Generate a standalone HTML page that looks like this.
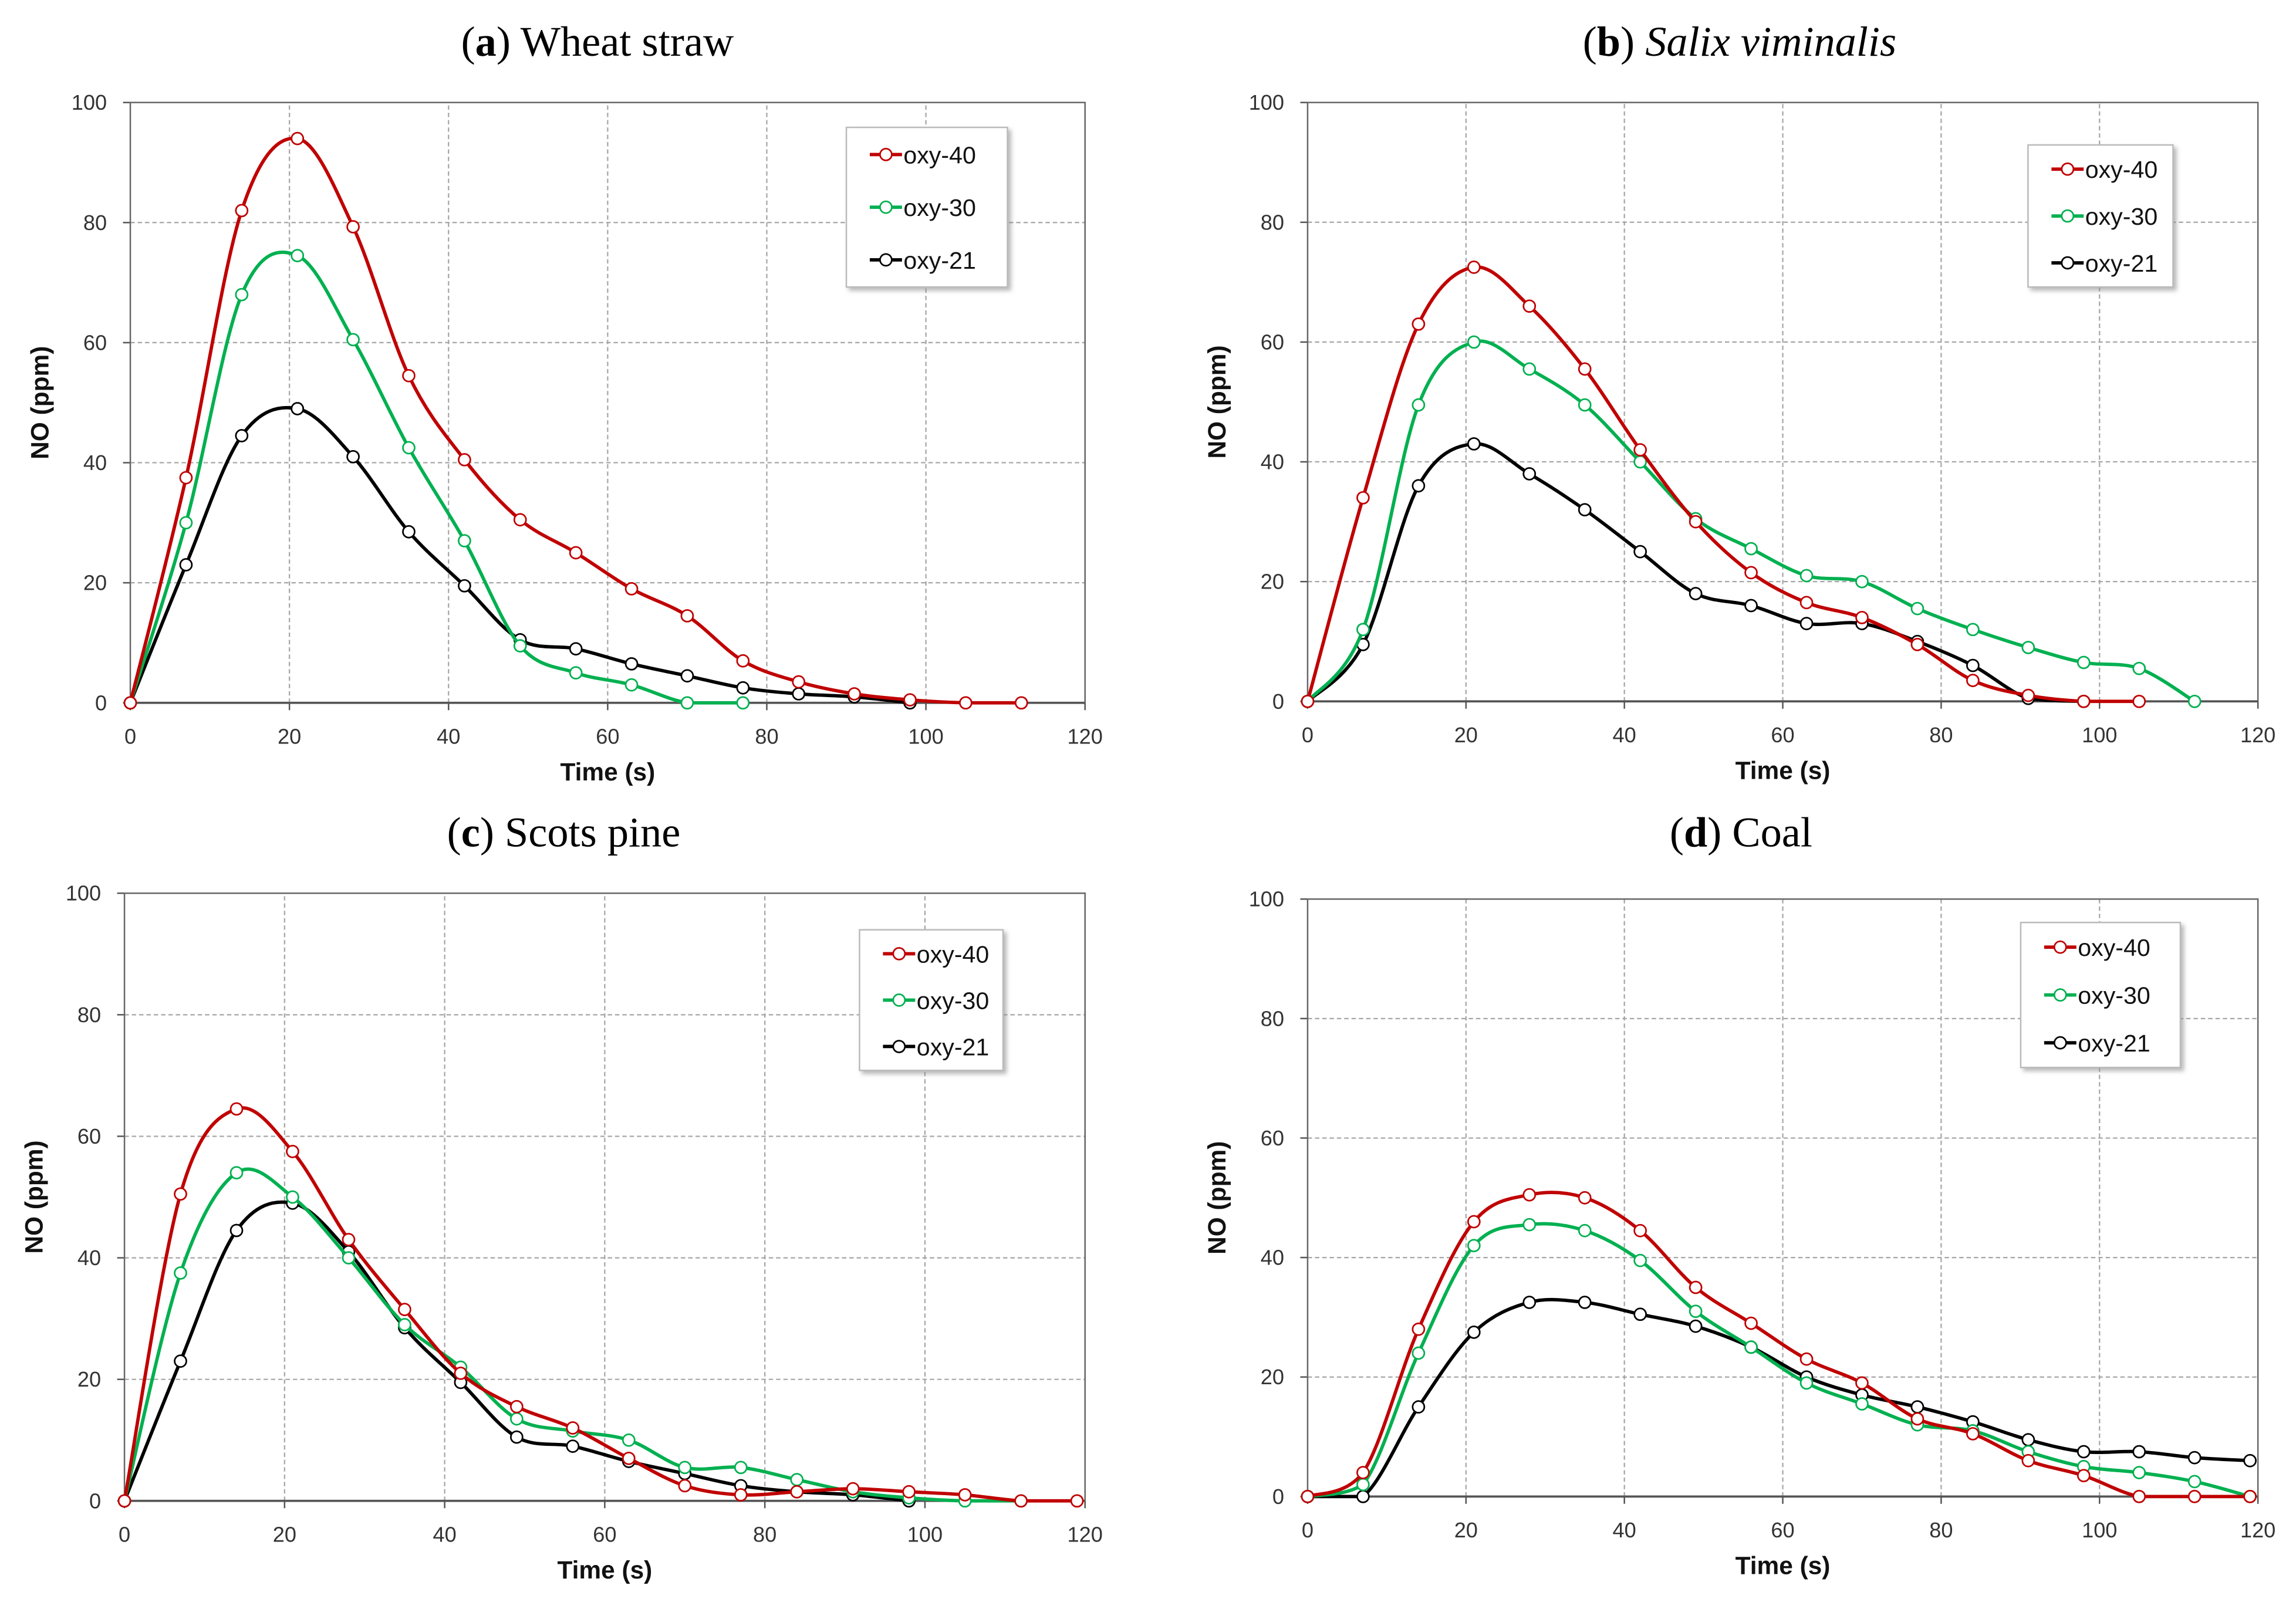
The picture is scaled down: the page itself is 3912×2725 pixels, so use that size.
<!DOCTYPE html>
<html><head><meta charset="utf-8">
<style>
html,body{margin:0;padding:0;background:#fff;}
svg{display:block;}
.tick{font-family:"Liberation Sans",sans-serif;font-size:14.5px;fill:#333;}
.atitle{font-family:"Liberation Sans",sans-serif;font-size:17px;font-weight:bold;fill:#111;}
.ptitle{font-family:"Liberation Serif",serif;font-size:29px;fill:#000;}
.leg{font-family:"Liberation Sans",sans-serif;font-size:16.5px;fill:#111;}
</style></head>
<body>
<svg id="fig" width="3912" height="2725" viewBox="0 0 1568 1092" preserveAspectRatio="none" xmlns="http://www.w3.org/2000/svg">
<defs><filter id="sh" x="-20%" y="-20%" width="150%" height="150%"><feDropShadow dx="2" dy="2" stdDeviation="1.5" flood-color="#888" flood-opacity="0.6"/></filter></defs>
</svg>
<script>
const times = [0,7,14,21,28,35,42,49,56,63,70,77,84,91,98,105,112,119];
const seriesNames = ["oxy-40","oxy-30","oxy-21"];
const xTicks = [0,20,40,60,80,100,120];
const yTicks = [0,20,40,60,80,100];
const aOxy40 = [0,37.5,82,94,79.3,54.5,40.5,30.5,25,19,14.5,7,3.5,1.5,0.5,0,0];
const aOxy30 = [0,30,68,74.5,60.5,42.5,27,9.5,5,3,0,0];
const aOxy21 = [0,23,44.5,49,41,28.5,19.5,10.5,9,6.5,4.5,2.5,1.5,1,0];
const bOxy40 = [0,34,63,72.5,66,55.5,42,30,21.5,16.5,14,9.5,3.5,1,0,0];
const bOxy30 = [0,12,49.5,60,55.5,49.5,40,30.5,25.5,21,20,15.5,12,9,6.5,5.5,0];
const bOxy21 = [0,9.5,36,43,38,32,25,18,16,13,13,10,6,0.5,0];
const cOxy40 = [0,50.5,64.5,57.5,43,31.5,21,15.5,12,7,2.5,1,1.5,2,1.5,1,0,0];
const cOxy30 = [0,37.5,54,50,40,29,22,13.5,11.5,10,5.5,5.5,3.5,1.5,0.5,0,0];
const cOxy21 = [0,23,44.5,49,41,28.5,19.5,10.5,9,6.5,4.5,2.5,1.5,1,0];
const dOxy40 = [0,4,28,46,50.5,50,44.5,35,29,23,19,13,10.5,6,3.5,0,0,0];
const dOxy30 = [0,2,24,42,45.5,44.5,39.5,31,25,19,15.5,12,11,7.5,5,4,2.5,0];
const dOxy21 = [0,0,15,27.5,32.5,32.5,30.5,28.5,25,20,17,15,12.5,9.5,7.5,7.5,6.5,6];

const colors=["#c00000","#00b050","#000000"];
const NS="http://www.w3.org/2000/svg";
const svg=document.getElementById('fig');
function mk(tag,attrs,parent){const e=document.createElementNS(NS,tag);for(const k in attrs)e.setAttribute(k,attrs[k]);(parent||svg).appendChild(e);return e;}

const panels=[
 {id:"a",title:["a"," Wheat straw",false],tx:408,ty:38,x0:89,x1:741,y0:480,y1:70,leg:[578,87,110,109],data:[aOxy40,aOxy30,aOxy21]},
 {id:"b",title:["b"," Salix viminalis",true],tx:1188,ty:38,x0:893,x1:1542,y0:479,y1:70,leg:[1385,99,99,97],data:[bOxy40,bOxy30,bOxy21]},
 {id:"c",title:["c"," Scots pine",false],tx:385,ty:578,x0:85,x1:741,y0:1025,y1:610,leg:[587,635,98,96],data:[cOxy40,cOxy30,cOxy21]},
 {id:"d",title:["d"," Coal",false],tx:1189,ty:578,x0:893,x1:1542,y0:1022,y1:614,leg:[1380,630,109,99],data:[dOxy40,dOxy30,dOxy21]}
];

function smoothPath(pts,base){
 let d="M"+pts[0][0]+","+pts[0][1];
 for(let i=0;i<pts.length-1;i++){
  const p0=pts[i-1]||pts[i],p1=pts[i],p2=pts[i+1],p3=pts[i+2]||p2;
  const c1=[p1[0]+(p2[0]-p0[0])/6,Math.min(base,p1[1]+(p2[1]-p0[1])/6)];
  const c2=[p2[0]-(p3[0]-p1[0])/6,Math.min(base,p2[1]-(p3[1]-p1[1])/6)];
  d+=" C"+c1[0]+","+c1[1]+" "+c2[0]+","+c2[1]+" "+p2[0]+","+p2[1];
 }
 return d;
}

panels.forEach(p=>{
 const g=mk('g',{});
 
 
 const xs=v=>p.x0+(p.x1-p.x0)*v/120;
 const ys=v=>p.y0+(p.y1-p.y0)*v/100;
 const t=mk('text',{x:p.tx,y:p.ty,'text-anchor':'middle',class:'ptitle'},g);
 
 
 t.appendChild(document.createTextNode("("));
 const b=mk('tspan',{'font-weight':'bold'},t);b.textContent=p.title[0];
 t.appendChild(document.createTextNode(")"));
 const r=mk('tspan',p.title[2]?{'font-style':'italic'}:{},t);r.textContent=p.title[1];
 xTicks.forEach(v=>{
  if(v>0&&v<120){const l=mk('line',{x1:xs(v),x2:xs(v),y1:ys(0),y2:ys(100),stroke:'#a6a6a6','stroke-width':0.9,'stroke-dasharray':'3,2'},g);
  }
  const tl=mk('text',{x:xs(v),y:ys(0)+28,'text-anchor':'middle',class:'tick'},g);tl.textContent=v;
  
  mk('line',{x1:xs(v),x2:xs(v),y1:ys(0),y2:ys(0)+5,stroke:'#555','stroke-width':1},g);
 });
 yTicks.forEach(v=>{
  if(v>0&&v<100){const l=mk('line',{x1:xs(0),x2:xs(120),y1:ys(v),y2:ys(v),stroke:'#a6a6a6','stroke-width':0.9,'stroke-dasharray':'3,2'},g);
  }
  const tl=mk('text',{x:xs(0)-16,y:ys(v)+5,'text-anchor':'end',class:'tick'},g);tl.textContent=v;
  
  mk('line',{x1:xs(0)-5,x2:xs(0),y1:ys(v),y2:ys(v),stroke:'#555','stroke-width':1},g);
 });
 const fr=mk('rect',{x:xs(0),y:ys(100),width:xs(120)-xs(0),height:ys(0)-ys(100),fill:'none',stroke:'#666','stroke-width':1},g);
 
 mk('line',{x1:xs(0),x2:xs(120),y1:ys(0),y2:ys(0),stroke:'#555','stroke-width':1.5},g);
 const xt=mk('text',{x:(xs(0)+xs(120))/2,y:ys(0)+53,'text-anchor':'middle',class:'atitle'},g);xt.textContent="Time (s)";
 
 const cy=(ys(0)+ys(100))/2;
 const yt=mk('text',{x:xs(0)-56,y:cy,'text-anchor':'middle',class:'atitle',transform:`rotate(-90 ${xs(0)-56} ${cy})`},g);yt.textContent="NO (ppm)";
 
 [2,1,0].forEach(si=>{
  const vals=p.data[si];
  const pts=vals.map((v,i)=>[xs(times[i]),ys(v)]);
  const sg=mk('g',{},g);
  
  
  const path=mk('path',{d:smoothPath(pts,ys(0)),fill:'none',stroke:colors[si],'stroke-width':2.3},sg);
  
  
  pts.forEach(pt=>{
   const c=mk('circle',{cx:pt[0],cy:pt[1],r:4,fill:'#fff',stroke:colors[si],'stroke-width':1.1},sg);
   
   
  });
 });
 const [lx,ly,lw,lh]=p.leg;
 const lg=mk('g',{},g);
 
 
 mk('rect',{x:lx,y:ly,width:lw,height:lh,fill:'#fff',stroke:'#bbb','stroke-width':1,filter:'url(#sh)'},lg);
 seriesNames.forEach((n,i)=>{
  const yy=ly+lh*(0.17+0.33*i);
  const e=mk('g',{},lg);
  
  
  mk('line',{x1:lx+16,x2:lx+38,y1:yy,y2:yy,stroke:colors[i],'stroke-width':2.3},e);
  mk('circle',{cx:lx+27,cy:yy,r:4,fill:'#fff',stroke:colors[i],'stroke-width':1.1},e);
  const tx=mk('text',{x:lx+39,y:yy+6,class:'leg'},e);tx.textContent=n;
 });
});
</script>
</body></html>
